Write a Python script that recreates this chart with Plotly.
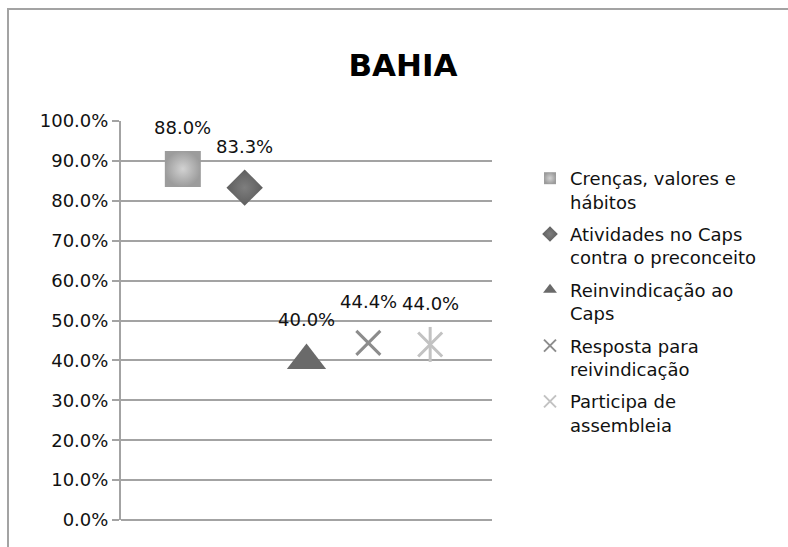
import plotly.graph_objects as go

title = "BAHIA"
series_names = [
    "Crenças, valores e<br>hábitos",
    "Atividades no Caps<br>contra o preconceito",
    "Reinvindicação ao<br>Caps",
    "Resposta para<br>reivindicação",
    "Participa de<br>assembleia",
]
x_positions = [1, 2, 3, 4, 5]
values = [0.880, 0.833, 0.400, 0.444, 0.440]
y_ticks = [0.0, 0.1, 0.2, 0.3, 0.4, 0.5, 0.6, 0.7, 0.8, 0.9, 1.0]

FONT = "DejaVu Sans"
GRID = "#a3a3a3"

styles = [
    dict(symbol="square", size=36, color="#9c9c9c",
         gradient=dict(type="radial", color="#d2d2d2"), line=dict(width=0)),
    dict(symbol="diamond", size=28, color="#5e5e5e",
         gradient=dict(type="radial", color="#7e7e7e"), line=dict(width=0)),
    dict(symbol="triangle-up", size=34, color="#6a6a6a", line=dict(width=0)),
    dict(symbol="x-thin-open", size=24, color="#8c8c8c", line=dict(width=3, color="#8c8c8c")),
    dict(symbol="x-thin-open", size=24, color="#c2c2c2", line=dict(width=3, color="#c2c2c2")),
]

fig = go.Figure()
for i, (name, xv, v, st) in enumerate(zip(series_names, x_positions, values, styles)):
    fig.add_trace(go.Scatter(
        x=[xv], y=[v], mode="markers", name=name, marker=st,
        legendgroup=f"g{i}", showlegend=True,
    ))
    if i == 4:
        fig.add_trace(go.Scatter(
            x=[xv], y=[v], mode="markers", name=name,
            marker=dict(symbol="line-ns-open", size=25, color="#c2c2c2",
                        line=dict(width=3, color="#c2c2c2")),
            legendgroup=f"g{i}", showlegend=False,
        ))
    fig.add_annotation(
        x=xv, y=v, text=f"{v*100:.1f}%", showarrow=False,
        yanchor="middle", yshift=41,
        font=dict(family=FONT, size=18, color="#111111"),
    )

fig.update_layout(
    width=788, height=547, autosize=False,
    margin=dict(l=121, r=296, t=121, b=27),
    paper_bgcolor="white", plot_bgcolor="white",
    title=dict(text=f"<b>{title}</b>", x=403/788, y=1-65/547, xref="container",
               yref="container", xanchor="center", yanchor="middle",
               font=dict(family=FONT, size=31, color="#000000")),
    xaxis=dict(range=[0, 6], showgrid=False, zeroline=False, showline=False,
               showticklabels=False, ticks=""),
    yaxis=dict(range=[0, 1], tickvals=y_ticks, tickformat=".1%",
               showgrid=True, gridcolor=GRID, gridwidth=1.6,
               zeroline=True, zerolinecolor=GRID, zerolinewidth=1.6,
               showline=True, linecolor=GRID, linewidth=2,
               ticks="outside", ticklen=7, tickcolor=GRID, tickwidth=2,
               tickfont=dict(family=FONT, size=18, color="#111111")),
    legend=dict(x=(530-121)/371, xanchor="left", y=(520-160)/399, yanchor="top",
                font=dict(family=FONT, size=18, color="#111111"),
                itemsizing="constant", valign="top", tracegroupgap=6,
                bgcolor="rgba(0,0,0,0)"),
    shapes=[dict(type="rect", xref="paper", yref="paper",
                 x0=(8-121)/371, x1=(800-121)/371,
                 y0=(520-560)/399, y1=(520-9)/399,
                 line=dict(color="#a3a3a3", width=2), fillcolor="rgba(0,0,0,0)",
                 layer="below")],
    showlegend=True,
)

fig.write_html("out.html", config={"displayModeBar": False},
               post_script="document.body.style.margin='0';document.body.style.overflow='hidden';")
